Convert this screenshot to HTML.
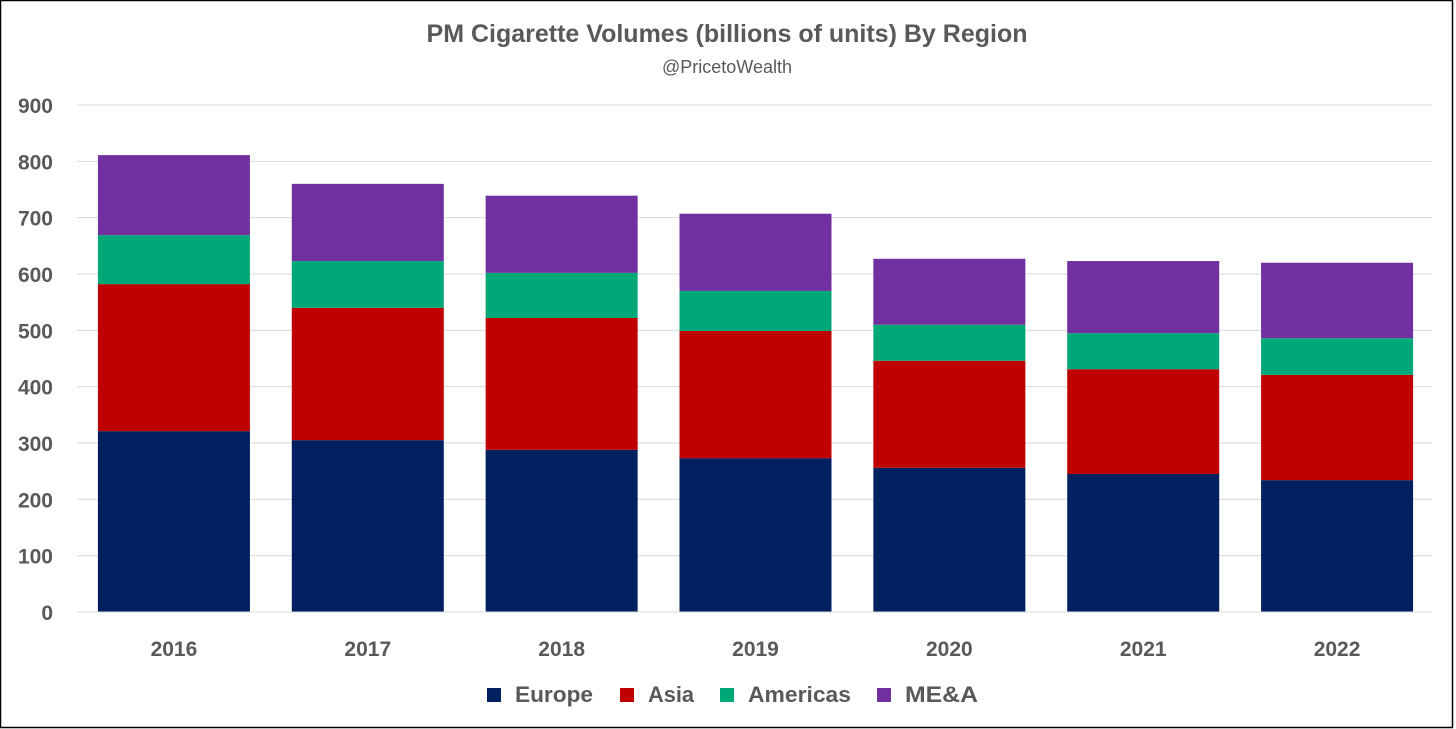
<!DOCTYPE html>
<html><head><meta charset="utf-8">
<style>
html,body{margin:0;padding:0;background:#fff;}
svg{display:block;font-family:"Liberation Sans",sans-serif;}
</style></head>
<body>
<svg id="chart" width="1456" height="729" viewBox="0 0 1456 729">
<rect x="0.5" y="0.5" width="1452" height="727" fill="#fff" stroke="#000" stroke-width="1.5"/>
<text x="727" y="42" text-anchor="middle" font-size="25" font-weight="bold" fill="#595959">PM Cigarette Volumes (billions of units) By Region</text>
<text x="727" y="73" text-anchor="middle" font-size="18" fill="#595959">@PricetoWealth</text>
<g id="grid"></g><g id="bars"></g><g id="axes"></g><g id="legend"></g>
</svg>
<script>
const categories = ["2016","2017","2018","2019","2020","2021","2022"];
const europe   = [321,305,288,273,256,245,234];
const asia     = [261,235,234,226,190,186,187];
const americas = [87,83,80,71,64,64,65];
const mea      = [142,137,137,137,117,128,134];
const yTicks = [0,100,200,300,400,500,600,700,800,900];
const seriesNames = ["Europe","Asia","Americas","ME&A"];
const seriesColors = ["#002060","#c00000","#00a878","#7030a0"];
const seriesData = [europe, asia, americas, mea];

const NS="http://www.w3.org/2000/svg";
const plotL=77, plotR=1434, y0=612, yTop=105, yMax=900;
const step=(plotR-plotL)/categories.length, barW=152;
const yScale=v=>y0-(v/yMax)*(y0-yTop);
const xCenter=i=>plotL+step*(i+0.5);
function mk(tag,attrs,parent){const e=document.createElementNS(NS,tag);for(const k in attrs)e.setAttribute(k,attrs[k]);parent.appendChild(e);return e;}
const grid=document.getElementById("grid"),bars=document.getElementById("bars"),axes=document.getElementById("axes"),legend=document.getElementById("legend");
yTicks.forEach(t=>{
  const y=yScale(t);
  const l=mk("line",{x1:plotL,x2:plotR-2,y1:y,y2:y,stroke:"#d9d9d9","stroke-width":1},grid);
  
  
  const tx=mk("text",{x:53,y:y+8,"text-anchor":"end","font-size":21,"font-weight":"bold",fill:"#595959"},axes);
  tx.textContent=t;
  
  
});
categories.forEach((c,i)=>{
  let acc=0;
  seriesData.forEach((s,k)=>{
    const top=yScale(acc+s[i]),bot=yScale(acc);
    const r=mk("rect",{x:xCenter(i)-barW/2,y:top,width:barW,height:bot-top,fill:seriesColors[k]},bars);
    
    
    acc+=s[i];
  });
  const tx=mk("text",{x:xCenter(i),y:656,"text-anchor":"middle","font-size":21,"font-weight":"bold",fill:"#595959"},axes);
  tx.textContent=c;
  
  
});
const ax=mk("line",{x1:plotL,x2:plotR-2,y1:y0,y2:y0,stroke:"#d9d9d9","stroke-width":1},axes);


const legX=[487,620,720,877];
const legW=[78,46,103,73];
seriesNames.forEach((n,k)=>{
  const g=mk("g",{},legend);
  
  
  mk("rect",{x:legX[k],y:688,width:14,height:14,fill:seriesColors[k]},g);
  const t=mk("text",{x:legX[k]+28,y:702,"font-size":22,"font-weight":"bold",fill:"#595959",textLength:legW[k],lengthAdjust:"spacingAndGlyphs"},g);
  t.textContent=n;
});
</script>
</body></html>
